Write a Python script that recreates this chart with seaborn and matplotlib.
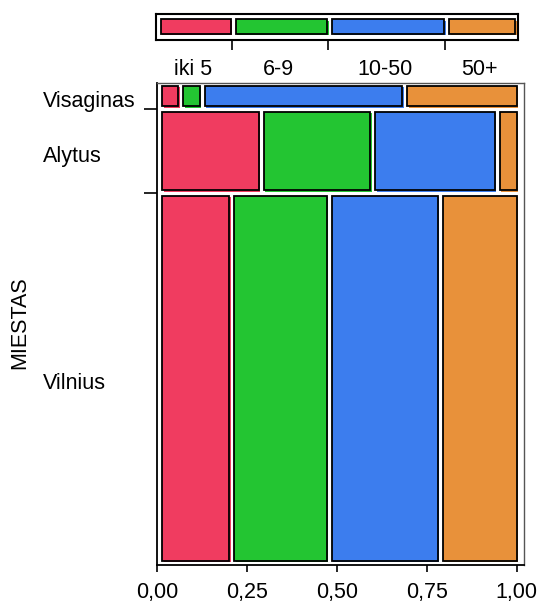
import pandas as pd
import seaborn as sns
import matplotlib.pyplot as plt
from matplotlib.patches import Rectangle
from matplotlib import transforms

cities = ['Visaginas', 'Alytus', 'Vilnius']
age_groups = ['iki 5', '6-9', '10-50', '50+']
visaginas = [3, 3, 36, 20]
alytus = [68, 75, 84, 12]
vilnius = [220, 303, 348, 242]
colors = ['#F03C60', '#23C532', '#3C7DEE', '#E8913A']
x_ticks = [0, 0.25, 0.5, 0.75, 1.0]
x_tick_labels = ['0,00', '0,25', '0,50', '0,75', '1,00']

data = pd.DataFrame([visaginas, alytus, vilnius], index=cities, columns=age_groups)
row_share = data.sum(axis=1) / data.values.sum()
col_share = data.div(data.sum(axis=1), axis=0)
marg_share = data.sum(axis=0) / data.values.sum()

sns.set_theme(style='white')
plt.rcParams['font.family'] = ['Liberation Sans', 'DejaVu Sans']
plt.rcParams['text.color'] = 'black'
plt.rcParams['xtick.color'] = 'black'
plt.rcParams['ytick.color'] = 'black'
FS = 15.5

W, H = 539, 603
fig = plt.figure(figsize=(W / 100, H / 100), dpi=100)

# px -> axes geometry helpers
PX = 359.4          # pixels per unit on the x scale
X0PX = 157.3        # pixel of x = 0


def axes_rect(left, right, top, bottom):
    return [left / W, 1 - bottom / H, (right - left) / W, (bottom - top) / H]


# ---- main mosaic ----
ax = fig.add_axes(axes_rect(157, 524, 83, 565))
ax.set_xlim(0, (524 - X0PX) / PX)
gap_x = 5 / PX
x_start = 5 / PX
gap_y = 5.7 / 463.6
ax.set_ylim(1 + 2 * gap_y + 4.3 / 463.6, -2.7 / 463.6)

shadow = transforms.offset_copy(ax.transData, fig=fig, x=1.5, y=-1.5, units='dots')
avail_x = 1.0 - x_start - 3 * gap_x

y = 0
boundaries = []
row_centers = []
for i, city in enumerate(cities):
    h = row_share[city]
    x = x_start
    for j, grp in enumerate(age_groups):
        w = col_share.loc[city, grp] * avail_x
        ax.add_patch(Rectangle((x, y), w, h, facecolor=colors[j], edgecolor='none',
                               transform=shadow, zorder=2))
        ax.add_patch(Rectangle((x, y), w, h, facecolor=colors[j], edgecolor='black',
                               linewidth=1.3, zorder=3))
        x += w + gap_x
    row_centers.append(y + h / 2)
    y += h
    if i < len(cities) - 1:
        boundaries.append(y + gap_y / 2)
        y += gap_y

ax.set_xticks(x_ticks)
ax.set_xticklabels(x_tick_labels, fontsize=FS, color='black')
ax.set_yticks(boundaries)
ax.set_yticklabels([])
ax.tick_params(axis='x', direction='out', length=5, width=1.2, pad=7, colors='black',
               bottom=True)
ax.tick_params(axis='y', direction='out', length=9.4, width=1.2, left=True, colors='black')
for side in ['left', 'bottom']:
    ax.spines[side].set_color('black')
    ax.spines[side].set_linewidth(1.3)
for side in ['top', 'right']:
    ax.spines[side].set_color('#555555')
    ax.spines[side].set_linewidth(1.0)

# row labels, left aligned
lab_tr = transforms.offset_copy(
    transforms.blended_transform_factory(fig.transFigure, ax.transData),
    fig=fig, x=0, y=-11, units='dots')
for city, yc in zip(cities, row_centers):
    ax.text(43 / W, yc, city, transform=lab_tr, ha='left', va='baseline', fontsize=FS,
            color='black')

fig.text(20 / W, 1 - 323 / H, 'MIESTAS', rotation=90, ha='center', va='center',
         fontsize=FS, color='black')

# ---- top marginal bar ----
axt = fig.add_axes(axes_rect(156, 518, 14, 39.5))
axt.set_xlim((156 - X0PX) / PX, (518 - X0PX) / PX)
axt.set_ylim(0, 1)
shadow_t = transforms.offset_copy(axt.transData, fig=fig, x=1.5, y=-1.5, units='dots')
mx_start = (160.7 - X0PX) / PX
m_avail = (515.3 - X0PX) / PX - mx_start - 3 * gap_x
x = mx_start
seg_ticks = []
seg_centers = []
for j, grp in enumerate(age_groups):
    w = marg_share[grp] * m_avail
    axt.add_patch(Rectangle((x, 0.216), w, 0.574, facecolor=colors[j], edgecolor='none',
                            transform=shadow_t, zorder=2))
    axt.add_patch(Rectangle((x, 0.216), w, 0.574, facecolor=colors[j], edgecolor='black',
                            linewidth=1.3, zorder=3))
    seg_centers.append(x + w / 2)
    if j < len(age_groups) - 1:
        seg_ticks.append(x + w + 1 / PX)
    x += w + gap_x

axt.set_xticks(seg_ticks)
axt.set_xticklabels([])
axt.set_yticks([])
axt.tick_params(axis='x', direction='out', length=7, width=1.2, bottom=True, colors='black')
for side in axt.spines.values():
    side.set_color('black')
    side.set_linewidth(1.5)

top_tr = transforms.offset_copy(
    transforms.blended_transform_factory(axt.transData, fig.transFigure),
    fig=fig, x=-3, y=0, units='dots')
for grp, xc in zip(age_groups, seg_centers):
    axt.text(xc, 1 - 75 / H, grp, transform=top_tr, ha='center', va='baseline',
             fontsize=FS, color='black')

fig.savefig('out.png', dpi=100)
